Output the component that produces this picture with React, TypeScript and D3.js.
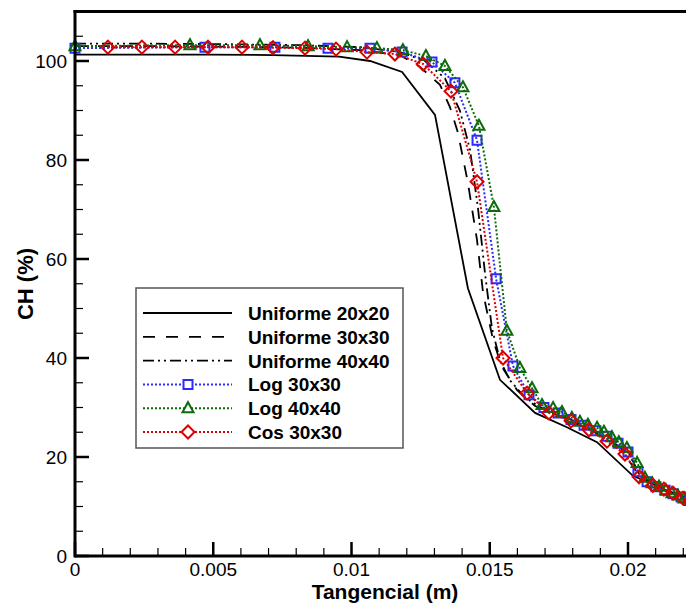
import React, { useEffect, useRef } from 'react';
import * as d3 from 'd3';

// Tangencial (m) / CH (%) readings per mesh
const uni20X = [0, 0.00239, 0.00477, 0.00716, 0.00955, 0.01067, 0.01183, 0.01302, 0.01421, 0.01537, 0.01664, 0.01779, 0.01888, 0.02018, 0.02134, 0.02253];
const uni20Y = [101.3, 101.3, 101.3, 101.2, 100.9, 100.0, 97.8, 89.1, 54.1, 35.6, 28.9, 26.0, 23.0, 16.2, 13.4, 10.8];

const uni30X = [0, 0.00271, 0.00542, 0.00814, 0.01031, 0.01175, 0.01248, 0.0132, 0.01356, 0.01385, 0.01421, 0.01454, 0.01476, 0.01512, 0.01544, 0.01599, 0.01664, 0.01754, 0.01863, 0.01971, 0.02043, 0.02134, 0.02253];
const uni30Y = [103.0, 103.0, 102.9, 102.7, 102.2, 101.2, 98.8, 95.2, 90.7, 85.5, 75.4, 63.8, 53.1, 43.6, 38.2, 33.5, 30.3, 28.2, 25.5, 22.0, 16.0, 13.2, 10.8];

const uni40X = [0, 0.00271, 0.00542, 0.00814, 0.01031, 0.01175, 0.01266, 0.01338, 0.01392, 0.01429, 0.01458, 0.01483, 0.01508, 0.01537, 0.01573, 0.01627, 0.017, 0.0179, 0.01899, 0.02007, 0.02043, 0.02134, 0.02253];
const uni40Y = [103.5, 103.5, 103.4, 103.2, 102.8, 101.8, 100.0, 96.5, 90.0, 82.0, 70.0, 57.0, 46.0, 39.5, 35.5, 32.0, 29.5, 27.6, 24.8, 20.5, 16.2, 13.3, 10.9];

const log30X = [0, 0.0047, 0.00723, 0.00915, 0.01067, 0.01183, 0.01291, 0.01374, 0.01454, 0.01523, 0.01584, 0.01642, 0.01696, 0.01747, 0.01794, 0.01841, 0.01884, 0.01924, 0.01964, 0.02, 0.02036, 0.02069, 0.02101, 0.02134, 0.02163, 0.02192, 0.02221];
const log30Y = [102.6, 102.8, 102.8, 102.6, 102.6, 101.8, 99.8, 95.6, 84.0, 56.0, 38.4, 32.6, 30.0, 28.9, 27.6, 26.4, 25.3, 24.2, 22.8, 21.0, 17.0, 15.0, 14.0, 13.3, 12.6, 11.9, 11.2];

const log40X = [0, 0.00416, 0.00669, 0.00843, 0.00984, 0.01092, 0.01186, 0.01269, 0.01338, 0.01403, 0.01461, 0.01515, 0.01562, 0.01609, 0.01653, 0.01689, 0.01729, 0.01761, 0.01797, 0.01826, 0.01855, 0.01888, 0.01913, 0.01942, 0.01967, 0.01996, 0.02033, 0.02061, 0.02087, 0.02112, 0.02137, 0.02159, 0.02181, 0.02203, 0.02224];
const log40Y = [103.0, 103.2, 103.2, 103.0, 102.8, 102.6, 102.2, 101.0, 99.0, 94.7, 86.9, 70.5, 45.5, 38.0, 33.9, 30.5, 29.9, 29.1, 27.9, 27.1, 26.5, 25.9, 25.1, 24.0, 23.0, 21.8, 18.8, 15.8, 14.7, 14.0, 13.3, 12.7, 12.2, 11.6, 11.1];

const cos30X = [0.00119, 0.00242, 0.00362, 0.00481, 0.00604, 0.00716, 0.00832, 0.00944, 0.01056, 0.01157, 0.01259, 0.0136, 0.01454, 0.01548, 0.01635, 0.01714, 0.01794, 0.01859, 0.01924, 0.01989, 0.0204, 0.0209, 0.0213, 0.02163, 0.02199, 0.02224];
const cos30Y = [102.8, 102.8, 102.8, 102.8, 102.8, 102.7, 102.6, 102.4, 101.8, 101.4, 99.4, 93.9, 75.6, 40.0, 32.9, 28.9, 27.3, 25.5, 23.2, 20.6, 16.0, 14.3, 13.5, 12.7, 11.7, 11.0];

const seriesNames = ['Uniforme 20x20', 'Uniforme 30x30', 'Uniforme 40x40', 'Log 30x30', 'Log 40x40', 'Cos 30x30'];
const xTicks = [0, 0.005, 0.01, 0.015, 0.02];
const yTicks = [0, 20, 40, 60, 80, 100];

const W = 686;
const H = 603;
const FONT = '"Liberation Sans", Arial, sans-serif';

const series = [
	{ name: seriesNames[0], xs: uni20X, ys: uni20Y, color: '#000', dash: null, marker: null },
	{ name: seriesNames[1], xs: uni30X, ys: uni30Y, color: '#000', dash: '12,11', marker: null },
	{ name: seriesNames[2], xs: uni40X, ys: uni40Y, color: '#000', dash: '11,4,2,4,2,4', marker: null },
	{ name: seriesNames[3], xs: log30X, ys: log30Y, color: '#2b2bff', dash: '2,2', marker: 'square' },
	{ name: seriesNames[4], xs: log40X, ys: log40Y, color: '#0b6b0b', dash: '2,2', marker: 'triangle' },
	{ name: seriesNames[5], xs: cos30X, ys: cos30Y, color: '#dd0000', dash: '2,2', marker: 'diamond' },
];

function markerPath (kind: string) {
	if (kind === 'square') return 'M-4.5,-4.5H4.5V4.5H-4.5Z';
	if (kind === 'triangle') return 'M0,-6L5.5,4H-5.5Z';
	return 'M0,-6.5L6.5,0L0,6.5L-6.5,0Z';
}

export default function App () {
	const ref = useRef<SVGSVGElement>(null);

	useEffect(() => {
		const svg = d3.select(ref.current);
		svg.selectAll('*').remove();

		const x = d3.scaleLinear().domain([0, 0.0225]).range([75, 75 + 0.0225 * 27650]);
		const y = d3.scaleLinear().domain([0, 110]).range([556, 11.5]);

		// curves
		series.forEach(s => {
			const pts = s.xs.map((v, i) => [v, s.ys[i]] as [number, number]);
			const line = d3.line<[number, number]>().x(d => x(d[0])).y(d => y(d[1]));
			svg.append('path')
				.attr('d', line(pts))
				.attr('fill', 'none')
				.attr('stroke', s.color)
				.attr('stroke-width', s.marker ? 2 : 1.8)
				.attr('stroke-dasharray', s.dash);
			if (s.marker) {
				svg.append('g').selectAll('path')
					.data(pts)
					.enter().append('path')
					.attr('d', markerPath(s.marker))
					.attr('transform', d => 'translate(' + x(d[0]) + ',' + y(d[1]) + ')')
					.attr('fill', 'none')
					.attr('stroke', s.color)
					.attr('stroke-width', 2);
			}
		});

		// frame
		svg.append('line').attr('x1', 75).attr('x2', W).attr('y1', 556).attr('y2', 556).attr('stroke', '#000').attr('stroke-width', 3);
		svg.append('line').attr('x1', 75).attr('x2', 75).attr('y1', 10).attr('y2', 557.5).attr('stroke', '#000').attr('stroke-width', 3);
		svg.append('line').attr('x1', 73.5).attr('x2', W).attr('y1', 11.5).attr('y2', 11.5).attr('stroke', '#000').attr('stroke-width', 3);

		// x ticks
		const xMinor = d3.range(0, 0.0226, 0.001);
		svg.append('g').selectAll('line').data(xMinor).enter().append('line')
			.attr('x1', d => x(d)).attr('x2', d => x(d))
			.attr('y1', 556).attr('y2', 548)
			.attr('stroke', '#000').attr('stroke-width', 1.2);
		svg.append('g').selectAll('line').data(xTicks).enter().append('line')
			.attr('x1', d => x(d)).attr('x2', d => x(d))
			.attr('y1', 556).attr('y2', 542)
			.attr('stroke', '#000').attr('stroke-width', 2.5);
		svg.append('g').selectAll('text').data(xTicks).enter().append('text')
			.attr('x', d => x(d)).attr('y', 576)
			.attr('text-anchor', 'middle')
			.style('font', '19px ' + FONT)
			.text(d => String(d));

		// y ticks
		const yMinor = d3.range(0, 110, 5);
		svg.append('g').selectAll('line').data(yMinor).enter().append('line')
			.attr('x1', 75).attr('x2', 83)
			.attr('y1', d => y(d)).attr('y2', d => y(d))
			.attr('stroke', '#000').attr('stroke-width', 1.2);
		svg.append('g').selectAll('line').data(yTicks).enter().append('line')
			.attr('x1', 75).attr('x2', 89)
			.attr('y1', d => y(d)).attr('y2', d => y(d))
			.attr('stroke', '#000').attr('stroke-width', 2.5);
		svg.append('g').selectAll('text').data(yTicks).enter().append('text')
			.attr('x', 67).attr('y', d => y(d) + 7)
			.attr('text-anchor', 'end')
			.style('font', '19px ' + FONT)
			.text(d => String(d));

		// titles
		svg.append('text')
			.attr('x', 385).attr('y', 599)
			.attr('text-anchor', 'middle')
			.style('font', 'bold 21px ' + FONT)
			.text('Tangencial (m)');
		svg.append('text')
			.attr('transform', 'translate(33,284) rotate(-90)')
			.attr('text-anchor', 'middle')
			.style('font', 'bold 22px ' + FONT)
			.text('CH (%)');

		// legend
		const lg = svg.append('g');
		lg.append('rect')
			.attr('x', 136).attr('y', 288).attr('width', 267).attr('height', 160)
			.attr('fill', '#fff').attr('stroke', '#555').attr('stroke-width', 1.5);
		series.forEach((s, i) => {
			const ry = 313 + i * 23.8;
			lg.append('line')
				.attr('x1', 143).attr('x2', 232).attr('y1', ry).attr('y2', ry)
				.attr('stroke', s.color)
				.attr('stroke-width', s.marker ? 2 : 1.8)
				.attr('stroke-dasharray', s.dash);
			if (s.marker) {
				lg.append('path')
					.attr('d', markerPath(s.marker))
					.attr('transform', 'translate(188,' + ry + ')')
					.attr('fill', '#fff')
					.attr('stroke', s.color)
					.attr('stroke-width', 2);
			}
			lg.append('text')
				.attr('x', 248).attr('y', ry + 7)
				.style('font', 'bold 19px ' + FONT)
				.text(s.name);
		});
	}, []);

	return (
		<svg ref={ref} width={W} height={H} style={{ position: 'absolute', left: 0, top: 0, background: '#fff' }} />
	);
}
